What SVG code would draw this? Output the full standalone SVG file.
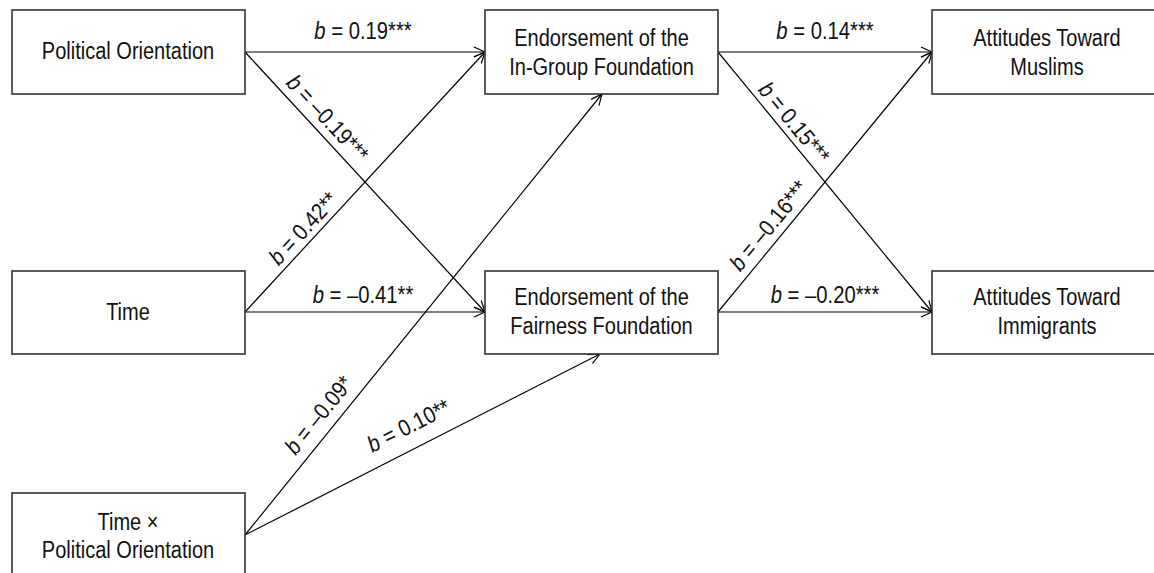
<svg xmlns="http://www.w3.org/2000/svg" width="1154" height="573" viewBox="0 0 1154 573">
<defs>
<marker id="arr" markerUnits="userSpaceOnUse" markerWidth="14" markerHeight="12" refX="11" refY="5" orient="auto" overflow="visible">
<path d="M0,0 L11,5 L0,10" fill="none" stroke="#000" stroke-width="1.2"/>
</marker>
<style>
.box{fill:#fff;stroke:#333;stroke-width:1.6}
.nt{font-family:"Liberation Sans",Arial,sans-serif;font-size:23px;fill:#111;text-anchor:middle}
.lb{font-family:"Liberation Sans",Arial,sans-serif;font-size:23px;fill:#111;text-anchor:middle}
.lb .b{font-style:italic}
.edge{fill:none;stroke:#000;stroke-width:1.2;marker-end:url(#arr)}
</style>
</defs>
<rect width="1154" height="573" fill="#fff"/>
<g id="connectors">
<line class="edge" x1="245" y1="52" x2="485" y2="52"/>
<line class="edge" x1="245" y1="52" x2="485" y2="312"/>
<line class="edge" x1="245" y1="312" x2="485" y2="52"/>
<line class="edge" x1="245" y1="312" x2="485" y2="312"/>
<line class="edge" x1="245" y1="535" x2="602" y2="94"/>
<line class="edge" x1="245" y1="535" x2="600" y2="354"/>
<line class="edge" x1="718" y1="52" x2="932" y2="52"/>
<line class="edge" x1="718" y1="52" x2="932" y2="312"/>
<line class="edge" x1="718" y1="312" x2="932" y2="52"/>
<line class="edge" x1="718" y1="312" x2="932" y2="312"/>
<text class="lb" transform="translate(363,39) scale(0.88,1)"><tspan class="b">b</tspan> = 0.19***</text>
<text class="lb" transform="translate(363,303) scale(0.88,1)"><tspan class="b">b</tspan> = –0.41**</text>
<text class="lb" transform="translate(825,39) scale(0.88,1)"><tspan class="b">b</tspan> = 0.14***</text>
<text class="lb" transform="translate(825,303) scale(0.88,1)"><tspan class="b">b</tspan> = –0.20***</text>
<text class="lb" transform="translate(316,129) rotate(47.3) scale(0.88,1)" y="-8"><tspan class="b">b</tspan> = –0.19***</text>
<text class="lb" transform="translate(313.5,237.8) rotate(-47.3) scale(0.88,1)" y="-6"><tspan class="b">b</tspan> = 0.42**</text>
<text class="lb" transform="translate(783.5,131.5) rotate(50.5) scale(0.88,1)" y="-6"><tspan class="b">b</tspan> = 0.15***</text>
<text class="lb" transform="translate(781,235.6) rotate(-50.5) scale(0.88,1)" y="-8"><tspan class="b">b</tspan> = –0.16***</text>
<text class="lb" transform="translate(331,425) rotate(-51) scale(0.88,1)" y="-8"><tspan class="b">b</tspan> = –0.09*</text>
<text class="lb" transform="translate(419,446) rotate(-27) scale(0.88,1)" y="-15"><tspan class="b">b</tspan> = 0.10**</text>
</g>
<g id="n-po"><rect class="box" x="12" y="10" width="233" height="84"/><text class="nt" transform="translate(128,59) scale(0.87,1)">Political Orientation</text></g>
<g id="n-time"><rect class="box" x="12" y="271" width="233" height="83"/><text class="nt" transform="translate(128,320) scale(0.87,1)">Time</text></g>
<g id="n-txpo"><rect class="box" x="12" y="493" width="233" height="100"/><text class="nt" transform="translate(128,530) scale(0.87,1)">Time ×</text><text class="nt" transform="translate(128,558) scale(0.87,1)">Political Orientation</text></g>
<g id="n-ingroup"><rect class="box" x="485" y="10" width="233" height="84"/><text class="nt" transform="translate(601.5,46) scale(0.87,1)">Endorsement of the</text><text class="nt" transform="translate(601.5,75) scale(0.87,1)">In-Group Foundation</text></g>
<g id="n-fair"><rect class="box" x="485" y="271" width="233" height="83"/><text class="nt" transform="translate(601.5,305) scale(0.87,1)">Endorsement of the</text><text class="nt" transform="translate(601.5,334) scale(0.87,1)">Fairness Foundation</text></g>
<g id="n-muslims"><rect class="box" x="932" y="10" width="233" height="84"/><text class="nt" transform="translate(1047,46) scale(0.87,1)">Attitudes Toward</text><text class="nt" transform="translate(1047,75) scale(0.87,1)">Muslims</text></g>
<g id="n-immig"><rect class="box" x="932" y="271" width="233" height="83"/><text class="nt" transform="translate(1047,305) scale(0.87,1)">Attitudes Toward</text><text class="nt" transform="translate(1047,334) scale(0.87,1)">Immigrants</text></g>
</svg>
